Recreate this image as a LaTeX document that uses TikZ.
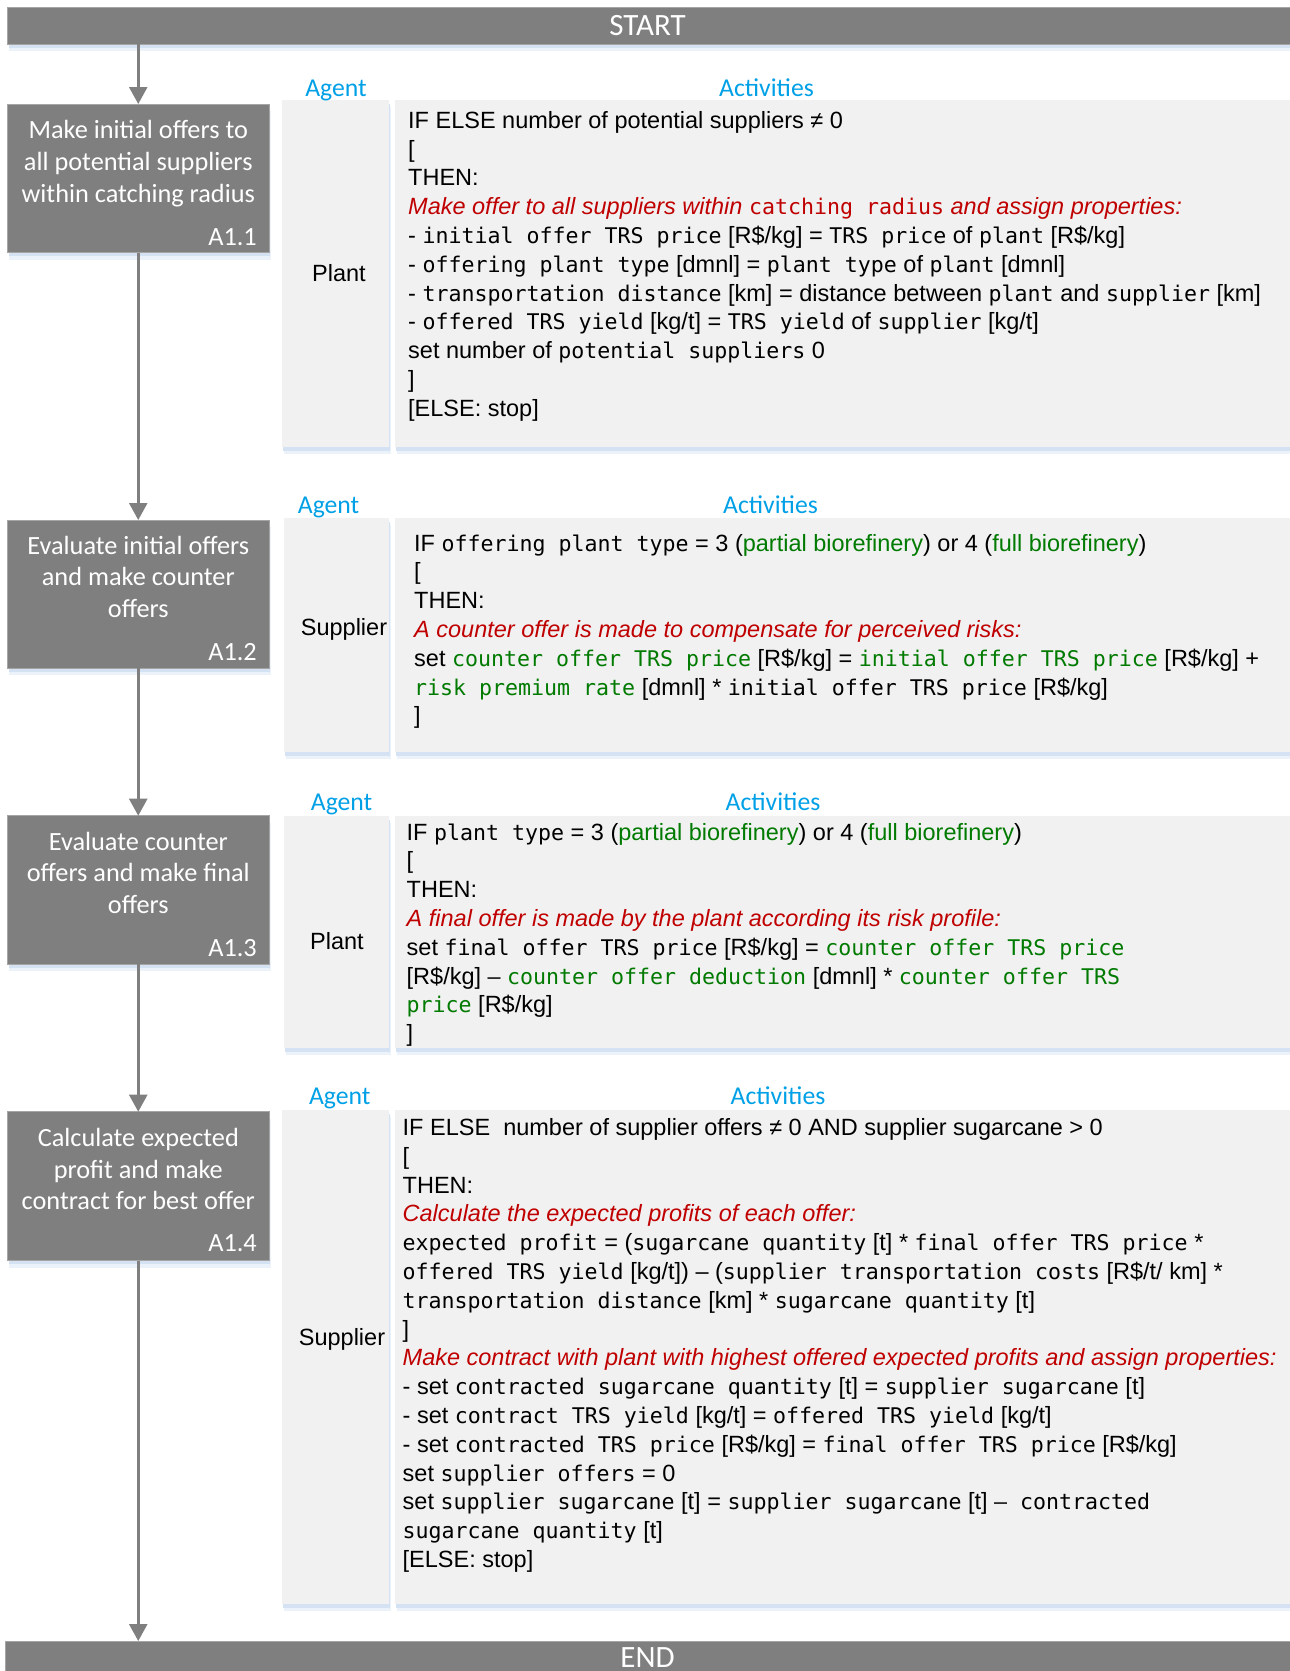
\documentclass[tikz,border=0pt]{standalone}
\usepackage{fontspec}
\setmainfont{Liberation Sans}
\newfontfamily\calfont{Carlito}
\newfontfamily\consfont{DejaVu Sans Mono}[Scale=0.919]
\usetikzlibrary{arrows.meta,shadows}

\definecolor{barfill}{RGB}{127,127,127}
\definecolor{barline}{RGB}{165,165,165}
\definecolor{panelfill}{RGB}{241,241,241}
\definecolor{shade}{RGB}{212,226,244}
\definecolor{headblue}{RGB}{0,160,230}
\definecolor{notered}{RGB}{192,0,0}
\definecolor{vargreen}{RGB}{0,122,0}
\definecolor{flowgray}{RGB}{127,127,127}

% inline styles for the activity listings
\newcommand\mono[1]{{\consfont #1}}
\newcommand\redit[1]{{\color{notered}\itshape #1}}
\newcommand\redmono[1]{{\color{notered}\consfont #1}}
\newcommand\grn[1]{{\color{vargreen}#1}}
\newcommand\grm[1]{{\color{vargreen}\consfont #1}}
\newenvironment{actlines}{\begin{tabular}[t]{@{}l@{}}}{\end{tabular}}
\newenvironment{boxlines}{\begin{tabular}[t]{@{}c@{}}}{\end{tabular}}

\begin{document}
\begin{tikzpicture}[x=1pt,y=-1pt,
  softshade/.style={general shadow={fill=shade, opacity=.45, shadow xshift=1.5pt, shadow yshift=-7pt},
                    general shadow={fill=shade, shadow xshift=1pt, shadow yshift=-3.5pt}},
  bar/.style={fill=barfill, draw=barline, line width=1pt, inner sep=0, outer sep=0, anchor=north west, softshade},
  procbox/.style={bar, minimum width=261.5pt},
  panel/.style={fill=panelfill, draw=none, inner sep=0, outer sep=0, anchor=north west, softshade},
  head/.style={text=headblue, font=\calfont\fontsize{25.7}{30}\selectfont, anchor=base, inner sep=0},
  agentname/.style={font=\fontsize{23.5}{28.8}\selectfont, anchor=base, inner sep=0},
  acttext/.style={font=\fontsize{23.5}{28.8}\selectfont, anchor=base west, inner sep=0},
  proctext/.style={text=white, font=\calfont\fontsize{26.3}{31.6}\selectfont, anchor=base, inner sep=0},
  procid/.style={text=white, font=\calfont\fontsize{26.3}{31.6}\selectfont, anchor=base east, inner sep=0},
  bartext/.style={text=white, font=\calfont\fontsize{31}{36}\selectfont, anchor=base, inner sep=0},
  flow/.style={draw=flowgray, line width=2.5pt, -{Triangle[width=18pt,length=17pt]}}
]
\useasboundingbox (0,0) rectangle (1290,1671);

% ---------- start and end bars ----------
\node[bar, minimum width=1283pt, minimum height=36.7pt] (start) at (7.5,7.3) {};
\node[bartext] (starttxt) at (647.5,35) {START};
\node[bar, minimum width=1290pt, minimum height=45pt] (endbar) at (5,1641) {};
\node[bartext] (endtxt) at (647.5,1667) {END};

% ---------- agent and activity panels ----------
\node[panel, minimum width=107pt, minimum height=347pt] (ag1) at (282,100) {};
\node[panel, minimum width=896pt, minimum height=347pt] (ac1) at (395,100) {};
\node[panel, minimum width=105pt, minimum height=234pt] (ag2) at (284,518) {};
\node[panel, minimum width=896pt, minimum height=234pt] (ac2) at (395,518) {};
\node[panel, minimum width=105pt, minimum height=232pt] (ag3) at (284,816) {};
\node[panel, minimum width=896pt, minimum height=232pt] (ac3) at (395,816) {};
\node[panel, minimum width=107pt, minimum height=494pt] (ag4) at (282,1110) {};
\node[panel, minimum width=896pt, minimum height=494pt] (ac4) at (395,1110) {};

% ---------- process boxes ----------
\node[procbox, minimum height=148.5pt] (p1) at (7.5,104) {};
\node[procbox, minimum height=148.3pt] (p2) at (7.5,520) {};
\node[procbox, minimum height=148.6pt] (p3) at (7.5,815.7) {};
\node[procbox, minimum height=149pt] (p4) at (7.5,1111.7) {};

\node[proctext] (p1txt) at (138.3,138.8) {\begin{boxlines}Make initial offers to\\all potential suppliers\\within catching radius\end{boxlines}};
\node[procid] (p1id) at (257,245) {A1.1};
\node[proctext] (p2txt) at (138.3,554) {\begin{boxlines}Evaluate initial offers\\and make counter\\offers\end{boxlines}};
\node[procid] (p2id) at (257,660) {A1.2};
\node[proctext] (p3txt) at (138.3,850) {\begin{boxlines}Evaluate counter\\offers and make final\\offers\end{boxlines}};
\node[procid] (p3id) at (257,956) {A1.3};
\node[proctext] (p4txt) at (138.3,1146.7) {\begin{boxlines}Calculate expected\\profit and make\\contract for best offer\end{boxlines}};
\node[procid] (p4id) at (257,1251.7) {A1.4};

% ---------- flow line ----------
\draw[flow] (start.south -| p1.north) -- (p1.north);
\draw[flow] (p1.south) -- (p2.north);
\draw[flow] (p2.south) -- (p3.north);
\draw[flow] (p3.south) -- (p4.north);
\draw[flow] (p4.south) -- (p4.south |- endbar.north);

% ---------- column headings ----------
\node[head] (h1a) at (336,96.7) {Agent};
\node[head] (h1b) at (766.5,96.7) {Activities};
\node[head] (h2a) at (328.6,513.3) {Agent};
\node[head] (h2b) at (770.5,513.3) {Activities};
\node[head] (h3a) at (341.6,810.3) {Agent};
\node[head] (h3b) at (773,810.3) {Activities};
\node[head] (h4a) at (339.8,1104.5) {Agent};
\node[head] (h4b) at (778,1104.5) {Activities};

% ---------- agents ----------
\node[agentname] (n1) at (339,281) {Plant};
\node[agentname] (n2) at (344,635) {Supplier};
\node[agentname] (n3) at (337,949.3) {Plant};
\node[agentname] (n4) at (342,1345) {Supplier};

% ---------- activities ----------
\node[acttext] (t1) at (408,128.3) {\begin{actlines}
IF ELSE number of potential suppliers ≠ 0\\
{[}\\
THEN:\\
\redit{Make offer to all suppliers within }\redmono{catching radius}\redit{ and assign properties:}\\
- \mono{initial offer TRS price} [R\$/kg] = \mono{TRS price} of \mono{plant} [R\$/kg]\\
- \mono{offering plant type} [dmnl] = \mono{plant type} of \mono{plant} [dmnl]\\
- \mono{transportation distance} [km] = distance between \mono{plant} and \mono{supplier} [km]\\
- \mono{offered TRS yield} [kg/t] = \mono{TRS yield} of \mono{supplier} [kg/t]\\
set number of \mono{potential suppliers} 0\\
]\\
{[}ELSE: stop]
\end{actlines}};

\node[acttext] (t2) at (414,551) {\begin{actlines}
IF \mono{offering plant type} = 3 (\grn{partial biorefinery}) or 4 (\grn{full biorefinery})\\
{[}\\
THEN:\\
\redit{A counter offer is made to compensate for perceived risks:}\\
set \grm{counter offer TRS price} [R\$/kg] = \grm{initial offer TRS price} [R\$/kg] +\\
\grm{risk premium rate} [dmnl] * \mono{initial offer TRS price} [R\$/kg]\\
]
\end{actlines}};

\node[acttext] (t3) at (406.5,840) {\begin{actlines}
IF \mono{plant type} = 3 (\grn{partial biorefinery}) or 4 (\grn{full biorefinery})\\
{[}\\
THEN:\\
\redit{A final offer is made by the plant according its risk profile:}\\
set \mono{final offer TRS price} [R\$/kg] = \grm{counter offer TRS price}\\
{[}R\$/kg] \mono{–} \grm{counter offer deduction} [dmnl] * \grm{counter offer TRS}\\
\grm{price} [R\$/kg]\\
]
\end{actlines}};

\node[acttext] (t4) at (402.5,1135.5) {\begin{actlines}
IF ELSE~ number of supplier offers ≠ 0 AND supplier sugarcane > 0\\
{[}\\
THEN:\\
\redit{Calculate the expected profits of each offer:}\\
\mono{expected profit} = (\mono{sugarcane quantity} [t] * \mono{final offer TRS price} *\\
\mono{offered TRS yield} [kg/t]) – (\mono{supplier transportation costs} [R\$/t/ km] *\\
\mono{transportation distance} [km] * \mono{sugarcane quantity} [t]\\
]\\
\redit{Make contract with plant with highest offered expected profits and assign properties:}\\
- set \mono{contracted sugarcane quantity} [t] = \mono{supplier sugarcane} [t]\\
- set \mono{contract TRS yield} [kg/t] = \mono{offered TRS yield} [kg/t]\\
- set \mono{contracted TRS price} [R\$/kg] = \mono{final offer TRS price} [R\$/kg]\\
set \mono{supplier offers} = 0\\
set \mono{supplier sugarcane} [t] = \mono{supplier sugarcane} [t] \mono{– contracted}\\
\mono{sugarcane quantity} [t]\\
{[}ELSE: stop]
\end{actlines}};

\end{tikzpicture}
\end{document}
